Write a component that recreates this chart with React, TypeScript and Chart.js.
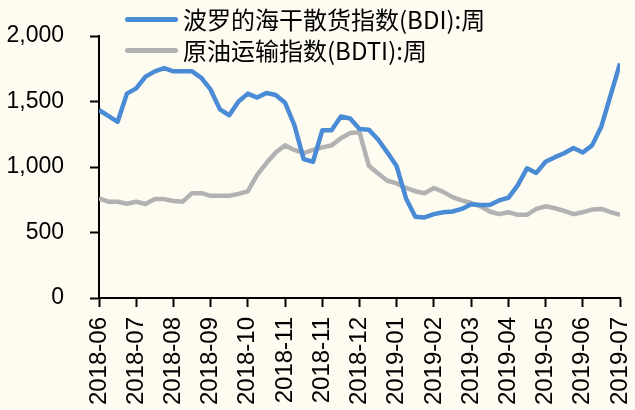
import React, { useEffect, useRef } from "react";
import { Chart, registerables } from "chart.js";

Chart.register(...registerables);

const TICK_LABELS = [
  "2018-06", "2018-07", "2018-08", "2018-09", "2018-10", "2018-11", "2018-11",
  "2018-12", "2019-01", "2019-02", "2019-03", "2019-04", "2019-05", "2019-06", "2019-07",
];

const WEEKS_PER_TICK = 4;

const BDI = [
  1435, 1390, 1345, 1560, 1600, 1690, 1730, 1755, 1730, 1730,
  1730, 1680, 1590, 1440, 1395, 1500, 1560, 1530, 1565, 1550,
  1490, 1320, 1060, 1040, 1280, 1280, 1385, 1370, 1290, 1285,
  1210, 1110, 1005, 760, 620, 615, 640, 655, 660, 680,
  715, 710, 710, 745, 765, 860, 990, 955, 1040, 1075,
  1105, 1145, 1110, 1165, 1310, 1550, 1790,
];

const BDTI = [
  760, 735, 735, 720, 735, 718, 755, 755, 740, 735,
  800, 800, 780, 780, 780, 795, 815, 940, 1030, 1110,
  1165, 1130, 1105, 1130, 1150, 1165, 1220, 1260, 1265, 1010,
  950, 895, 875, 840, 815, 800, 840, 810, 770, 745,
  725, 700, 660, 640, 655, 635, 635, 680, 700, 685,
  665, 640, 655, 675, 680, 655, 635,
];

const SERIES_NAMES = ["波罗的海干散货指数(BDI):周", "原油运输指数(BDTI):周"];
const COLORS = ["#4a8bd6", "#b2b2b2"];

export default function App() {
  const ref = useRef<HTMLCanvasElement | null>(null);

  useEffect(() => {
    if (!ref.current) return;
    const toPts = (arr: number[]) => arr.map((y, i) => ({ x: i, y }));
    const maxX = (TICK_LABELS.length - 1) * WEEKS_PER_TICK;
    const axisCommon = {
      grid: {
        drawOnChartArea: false,
        drawTicks: true,
        tickLength: 9,
        tickWidth: 2,
        tickColor: "#000",
      },
      border: { display: true, color: "#000", width: 2 },
    };
    const chart = new Chart(ref.current, {
      type: "line",
      data: {
        datasets: [
          {
            label: SERIES_NAMES[0],
            data: toPts(BDI),
            borderColor: COLORS[0],
            borderWidth: 4.5,
            pointRadius: 0,
            tension: 0,
            borderJoinStyle: "round",
          },
          {
            label: SERIES_NAMES[1],
            data: toPts(BDTI),
            borderColor: COLORS[1],
            borderWidth: 4.5,
            pointRadius: 0,
            tension: 0,
            borderJoinStyle: "round",
          },
        ],
      },
      options: {
        responsive: false,
        animation: false,
        layout: { padding: { top: 36, right: 15, left: 0, bottom: 0 } },
        plugins: { legend: { display: false }, tooltip: { enabled: false } },
        scales: {
          x: {
            type: "linear",
            min: 0,
            max: maxX,
            afterBuildTicks: (s: any) => {
              s.ticks = TICK_LABELS.map((_, i) => ({ value: i * WEEKS_PER_TICK }));
            },
            afterFit: (s: any) => {
              s.height = 112;
              s.paddingLeft = 0;
              s.paddingRight = 0;
              s.paddingTop = 0;
              s.paddingBottom = 0;
            },
            ticks: {
              autoSkip: false,
              maxRotation: 90,
              minRotation: 90,
              padding: 10,
              color: "#000",
              font: { family: "Liberation Sans", size: 24 },
              callback: (v: any) => TICK_LABELS[Math.round(Number(v) / WEEKS_PER_TICK)],
            },
            ...axisCommon,
          },
          y: {
            min: 0,
            max: 2000,
            afterFit: (s: any) => {
              s.width = 99;
              s.paddingLeft = 0;
              s.paddingRight = 0;
              s.paddingTop = 0;
              s.paddingBottom = 0;
            },
            ticks: {
              stepSize: 500,
              padding: 26,
              color: "#000",
              font: { family: "Liberation Sans", size: 23 },
              callback: (v: any) => Number(v).toLocaleString("en-US"),
            },
            ...axisCommon,
          },
        },
      },
    } as any);
    return () => chart.destroy();
  }, []);

  const legendRow = (i: number, cy: number) => (
    <div key={i}>
      <div
        style={{
          position: "absolute",
          left: 125,
          top: cy - 2.5,
          width: 53,
          height: 5,
          borderRadius: 3,
          background: COLORS[i],
        }}
      />
      <div
        style={{
          position: "absolute",
          left: 183,
          top: cy - 16,
          height: 32,
          lineHeight: "32px",
          fontFamily: "'Noto Sans CJK SC', sans-serif",
          fontSize: 24,
          color: "#000",
          whiteSpace: "nowrap",
        }}
      >
        {SERIES_NAMES[i]}
      </div>
    </div>
  );

  return (
    <div
      style={{
        position: "absolute",
        left: 0,
        top: 0,
        width: 635,
        height: 410,
        background: "#fefbf1",
        overflow: "hidden",
      }}
    >
      <canvas ref={ref} width={635} height={410} style={{ position: "absolute", left: 0, top: 0 }} />
      {legendRow(0, 19)}
      {legendRow(1, 50)}
    </div>
  );
}
